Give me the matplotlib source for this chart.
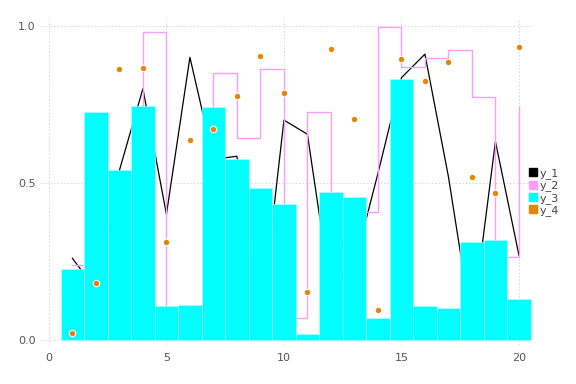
import numpy as np
import matplotlib
matplotlib.use("Agg")
import matplotlib.pyplot as plt
from matplotlib.lines import Line2D

x = np.arange(1, 21)
y_1 = [0.26, 0.16, 0.54, 0.80, 0.40, 0.90, 0.575, 0.585, 0.04, 0.70,
       0.655, 0.15, 0.24, 0.53, 0.835, 0.91, 0.52, 0.045, 0.632, 0.27]
y_2 = [0.238, 0.35, 0.45, 0.982, 0.05, 0.08, 0.849, 0.644, 0.863, 0.071,
       0.725, 0.30, 0.409, 0.996, 0.87, 0.899, 0.924, 0.773, 0.264, 0.743]
y_3 = [0.225, 0.725, 0.541, 0.745, 0.108, 0.111, 0.743, 0.575, 0.483, 0.433,
       0.018, 0.472, 0.454, 0.069, 0.831, 0.109, 0.103, 0.313, 0.318, 0.131]
y_4 = [0.021, 0.182, 0.863, 0.867, 0.311, 0.637, 0.672, 0.777, 0.904, 0.787,
       0.154, 0.927, 0.703, 0.096, 0.894, 0.825, 0.884, 0.52, 0.467, 0.934]

labels = ["y_1", "y_2", "y_3", "y_4"]
colors = ["black", "#ff9cff", "#00ffff", "#e98300"]

fig = plt.figure(figsize=(5.76, 3.84), dpi=100)
ax = fig.add_axes([0.0694, 0.1016, 0.856, 0.8514])

ax.plot(x, y_1, color=colors[0], lw=0.9, zorder=2)
ax.plot(x, y_2, color=colors[1], lw=1.0, drawstyle="steps-post", zorder=2.1)
ax.bar(x, y_3, width=1.0, color=colors[2], edgecolor="#b8ffff", linewidth=0.4, zorder=2.2)
ax.scatter(x, y_4, s=22, color=colors[3], edgecolors="white", linewidths=0.8, zorder=3)

ax.set_xlim(-0.38, 20.6)
ax.set_ylim(-0.016, 1.025)
ax.set_xticks([0, 5, 10, 15, 20])
ax.set_yticks([0.0, 0.5, 1.0])
ax.set_yticklabels(["0.0", "0.5", "1.0"])
ax.grid(True, color="#d4d4e4", linestyle=(0, (1.5, 2)), linewidth=0.7, zorder=0)
ax.set_axisbelow(True)
for s in ax.spines.values():
    s.set_visible(False)
ax.tick_params(length=0, labelsize=8, labelcolor="#555555")
ax.tick_params(axis="x", pad=6)
ax.tick_params(axis="y", pad=3)

handles = [Line2D([], [], marker="s", linestyle="none", markersize=6,
                  markerfacecolor=c, markeredgecolor=c) for c in colors]
fig.legend(handles, labels, loc="center left", bbox_to_anchor=(0.903, 0.5),
           frameon=False, fontsize=8, handlelength=0.6, handletextpad=0.3,
           labelspacing=0.12, labelcolor="#444444")

fig.savefig("out.png", dpi=100)
